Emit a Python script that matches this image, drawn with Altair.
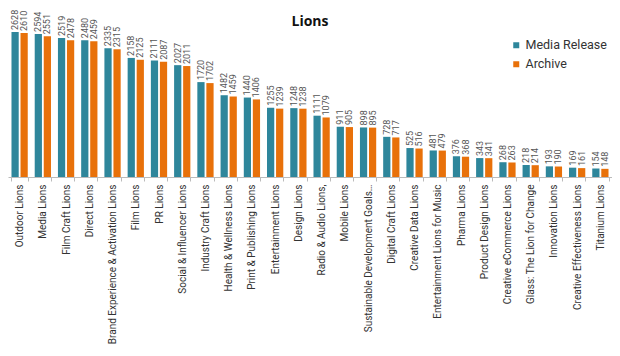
import altair as alt
import pandas as pd

categories = [
    "Outdoor Lions", "Media Lions", "Film Craft Lions", "Direct Lions",
    "Brand Experience & Activation Lions", "Film Lions", "PR Lions",
    "Social & Influencer Lions", "Industry Craft Lions", "Health & Wellness Lions",
    "Print & Publishing Lions", "Entertainment Lions", "Design Lions",
    "Radio & Audio Lions,", "Mobile Lions", "Sustainable Development Goals…",
    "Digital Craft Lions", "Creative Data Lions", "Entertainment Lions for Music",
    "Pharma Lions", "Product Design Lions", "Creative eCommerce Lions",
    "Glass: The Lion for Change", "Innovation Lions", "Creative Effectiveness Lions",
    "Titanium Lions",
]
media_release = [2628, 2594, 2519, 2480, 2335, 2158, 2111, 2027, 1720, 1482, 1440,
                 1255, 1248, 1111, 911, 898, 728, 525, 481, 376, 343, 268, 218,
                 193, 169, 154]
archive = [2610, 2551, 2478, 2459, 2315, 2125, 2087, 2011, 1702, 1459, 1406,
           1239, 1238, 1079, 905, 895, 717, 516, 479, 368, 341, 263, 214,
           190, 161, 148]
series_names = ["Media Release", "Archive"]
colors = ["#2E869B", "#E8710A"]

rows = []
for c, m, a in zip(categories, media_release, archive):
    rows.append({"category": c, "series": series_names[0], "value": m})
    rows.append({"category": c, "series": series_names[1], "value": a})
df = pd.DataFrame(rows)

x = alt.X(
    "category:N", sort=categories, title=None,
    scale=alt.Scale(paddingInner=0.3, paddingOuter=0.15),
    axis=alt.Axis(labelAngle=270, labelAlign="right", labelBaseline="middle",
                  labelFontSize=10, labelColor="#333333", labelFont="Roboto",
                  labelLimit=400, tickBand="extent", tickSize=4, tickColor="#bbbbbb",
                  domainColor="#bbbbbb", labelPadding=3),
)
xoff = alt.XOffset("series:N", sort=series_names,
                   scale=alt.Scale(paddingInner=0.2, paddingOuter=0))
y = alt.Y("value:Q", scale=alt.Scale(domain=[0, 3063]), axis=None)

base = alt.Chart(df)

bars = base.mark_bar().encode(
    x=x, xOffset=xoff, y=y,
    color=alt.Color(
        "series:N", sort=series_names,
        scale=alt.Scale(domain=series_names, range=colors),
        legend=alt.Legend(title=None, orient="none", legendX=502, legendY=31,
                          symbolType="square", symbolSize=36, labelFontSize=12.5,
                          labelColor="#333333", labelFont="Roboto", rowPadding=6,
                          labelOffset=3, symbolStrokeWidth=0),
    ),
)

labels = base.mark_text(angle=270, align="left", baseline="middle", dx=2,
                        fontSize=9, color="#555555", font="Roboto").encode(
    x=x, xOffset=xoff, y=y, text=alt.Text("value:Q"),
)

chart = (bars + labels).properties(
    width=604, height=169,
    title=alt.TitleParams("Lions", fontSize=14, fontWeight="bold", font="Open Sans",
                          anchor="middle", frame="group", offset=-21, color="#111111"),
    autosize=alt.AutoSizeParams(type="none"),
    padding={"left": 0, "top": 0, "right": 0, "bottom": 169},
).configure_view(strokeWidth=0)

chart.save("out.html", embed_options={"renderer": "svg", "actions": False})
